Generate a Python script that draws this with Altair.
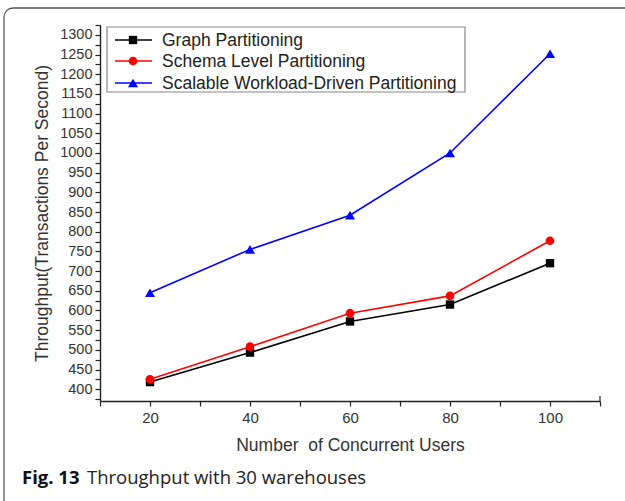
import altair as alt
import pandas as pd

# Throughput (transactions per second) by number of concurrent users
users = [20, 40, 60, 80, 100]
graph_partitioning = [418, 493, 572, 615, 720]
schema_level = [425, 508, 593, 637, 777]
scalable_workload = [645, 755, 842, 1000, 1252]

series_names = [
    "Graph Partitioning",
    "Schema Level Partitioning",
    "Scalable Workload-Driven Partitioning",
]
series_colors = ["#000000", "#ff0000", "#0000ff"]
series_shapes = ["square", "circle", "triangle-up"]
series_sizes = [70, 75, 100]

x_ticks = list(range(10, 111, 10))
y_ticks = list(range(375, 1326, 25))

W, H = 500, 376
AXIS_FONT = "Liberation Sans"

rows = []
for name, vals in zip(series_names, [graph_partitioning, schema_level, scalable_workload]):
    for u, v in zip(users, vals):
        rows.append({"users": u, "tps": v, "series": name})
df = pd.DataFrame(rows)

x_enc = alt.X(
    "users:Q",
    scale=alt.Scale(domain=[10, 110], nice=False, zero=False),
    axis=alt.Axis(
        title="Number\u00a0 of Concurrent Users",
        values=x_ticks,
        format="d",
        labelExpr="datum.value % 20 == 0 ? datum.label : ''",
        grid=False,
        tickSize=5,
        labelPadding=4,
        titlePadding=11,
        labelFontSize=15,
        titleFontSize=17.5,
        titleFontWeight="normal",
    ),
)
y_enc = alt.Y(
    "tps:Q",
    scale=alt.Scale(domain=[370, 1325], nice=False, zero=False),
    axis=alt.Axis(
        title="Throughput(Transactions Per Second)",
        values=y_ticks,
        format="d",
        labelExpr="datum.value % 50 == 0 ? datum.label : ''",
        grid=False,
        tickSize=5,
        labelPadding=3,
        titlePadding=8,
        labelFontSize=14.5,
        titleFontSize=17.5,
        titleFontWeight="normal",
    ),
)

layers = []
for name, color, shape, size in zip(series_names, series_colors, series_shapes, series_sizes):
    sub = df[df["series"] == name]
    base = alt.Chart(sub)
    layers.append(base.mark_line(color=color, strokeWidth=1.6).encode(x=x_enc, y=y_enc))
    layers.append(
        base.mark_point(color=color, shape=shape, filled=True, size=size, opacity=1).encode(
            x=x_enc, y=y_enc
        )
    )

# small upward tick closing the x axis at its right end
end_tick = alt.Chart(pd.DataFrame({"users": [110]})).mark_rule(
    color="#222", strokeWidth=1.2
).encode(x=alt.X("users:Q"), y=alt.value(H), y2=alt.value(H - 5))
layers.append(end_tick)

# legend box
one = pd.DataFrame({"k": [0]})
legend_box = alt.Chart(one).mark_rect(
    fill="white", stroke="#888888", strokeWidth=1.2
).encode(x=alt.value(7), x2=alt.value(365), y=alt.value(2), y2=alt.value(67))
layers.append(legend_box)

legend_rows_y = [15, 36, 58]
for name, color, shape, size, ly in zip(
    series_names, series_colors, series_shapes, series_sizes, legend_rows_y
):
    lg = alt.Chart(pd.DataFrame({"series": [name]}))
    layers.append(
        lg.mark_rule(color=color, strokeWidth=1.6).encode(
            x=alt.value(15), x2=alt.value(52), y=alt.value(ly)
        )
    )
    layers.append(
        lg.mark_point(color=color, shape=shape, filled=True, size=size, opacity=1).encode(
            x=alt.value(33), y=alt.value(ly)
        )
    )
    layers.append(
        lg.mark_text(
            align="left", baseline="middle", font=AXIS_FONT, fontSize=17.5, color="#222"
        ).encode(x=alt.value(62), y=alt.value(ly + 1), text="series:N")
    )

# outer rounded frame around figure and caption
frame = alt.Chart(one).mark_rect(
    fill=None, stroke="#555555", strokeWidth=1.3, cornerRadius=9, clip=False
).encode(x=alt.value(-96), x2=alt.value(540), y=alt.value(-17), y2=alt.value(490))
layers.insert(0, frame)

# figure caption
cap = pd.DataFrame({"a": ["Fig. 13"], "b": ["Throughput with 30 warehouses"]})
layers.append(
    alt.Chart(cap).mark_text(
        align="left", baseline="alphabetic", font="Open Sans", fontSize=18.5,
        fontWeight="bold", color="#111"
    ).encode(x=alt.value(-78), y=alt.value(459), text="a:N")
)
layers.append(
    alt.Chart(cap).mark_text(
        align="left", baseline="alphabetic", font="Open Sans", fontSize=18.5,
        color="#222"
    ).encode(x=alt.value(-13), y=alt.value(459), text="b:N")
)

chart = (
    alt.layer(*layers)
    .properties(
        width=W,
        height=H,
        autosize=alt.AutoSizeParams(type="none"),
        padding={"left": 100, "top": 25, "right": 25, "bottom": 100},
        background="white",
    )
    .configure_view(stroke=None)
    .configure_axis(
        labelFont=AXIS_FONT,
        titleFont=AXIS_FONT,
        labelColor="#333",
        titleColor="#333",
        domainColor="#222",
        tickColor="#222",
        domainWidth=1.4,
        tickWidth=1.2,
    )
)

chart.save("out.html", embed_options={"renderer": "svg", "actions": False})
